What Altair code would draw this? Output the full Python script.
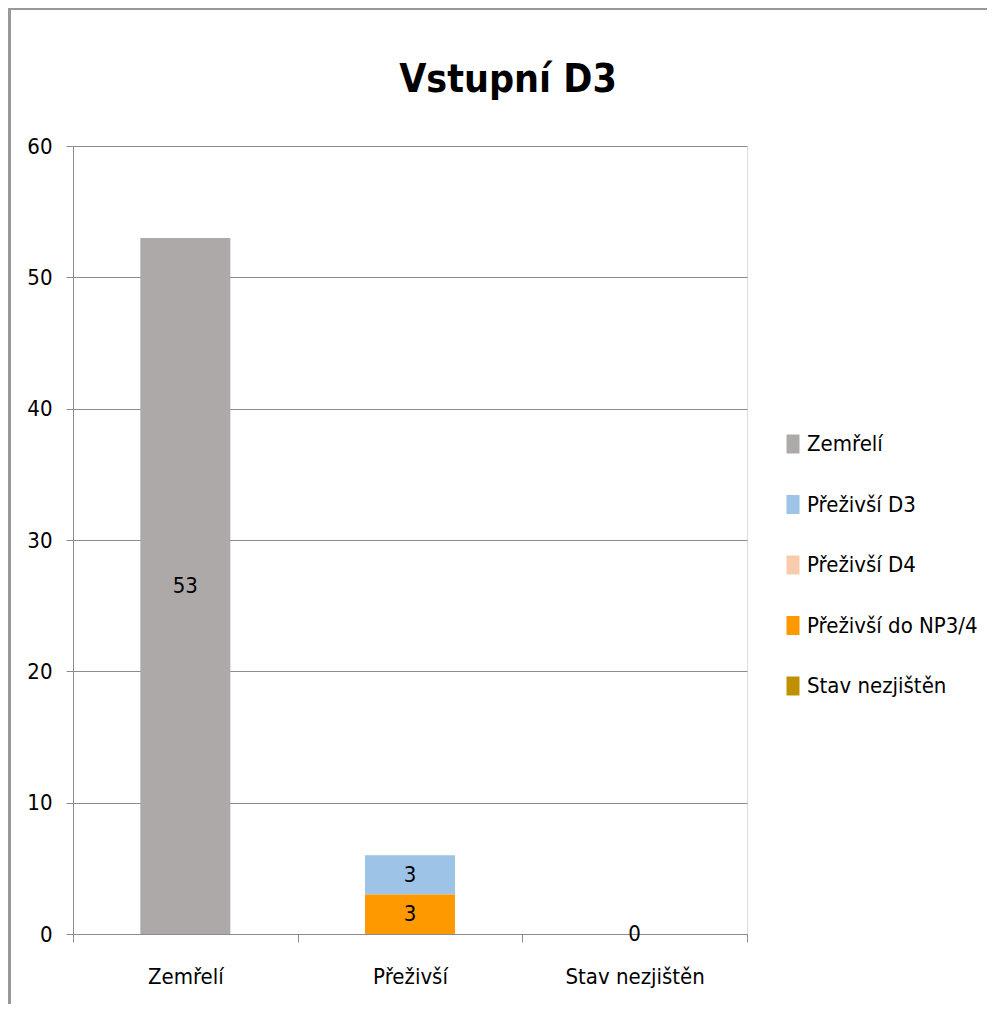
import altair as alt
import pandas as pd

categories = ["Zemřelí", "Přeživší", "Stav nezjištěn"]
series_names = ["Zemřelí", "Přeživší D3", "Přeživší D4", "Přeživší do NP3/4", "Stav nezjištěn"]
series_colors = ["#ADA9A8", "#9DC3E6", "#F8CBAD", "#FF9900", "#BF9000"]
# stacking order from bottom to top
stack_rank = [0, 2, 3, 1, 4]

zemreli = [53, 0, 0]
prezivsi_d3 = [0, 3, 0]
prezivsi_d4 = [0, 0, 0]
prezivsi_np34 = [0, 3, 0]
stav_nezjisten = [0, 0, 0]

series_values = [zemreli, prezivsi_d3, prezivsi_d4, prezivsi_np34, stav_nezjisten]

rows = []
for s, vals, rank in zip(series_names, series_values, stack_rank):
    for c, v in zip(categories, vals):
        rows.append({"cat": c, "series": s, "value": v, "ord": rank})
df = pd.DataFrame(rows)

FONT = "'DejaVu Sans Condensed', Roboto, sans-serif"
FS = 22
GRAY = "#8C8C8C"

x_enc = alt.X(
    "cat:N",
    sort=categories,
    scale=alt.Scale(paddingInner=0, paddingOuter=0),
    axis=alt.Axis(
        title=None,
        labelAngle=0,
        labelFontSize=FS,
        labelFont=FONT,
        labelColor="black",
        labelPadding=24,
        tickBand="extent",
        tickSize=8,
        tickColor=GRAY,
        domainColor=GRAY,
        grid=False,
    ),
)

y_scale = alt.Scale(domain=[0, 60], nice=False)

bars = alt.Chart(df).mark_bar(size=90).encode(
    x=x_enc,
    y=alt.Y(
        "value:Q",
        stack="zero",
        scale=y_scale,
        axis=alt.Axis(
            title=None,
            values=[0, 10, 20, 30, 40, 50, 60],
            labelFontSize=FS,
            labelFont=FONT,
            labelColor="black",
            labelPadding=14,
            tickSize=7,
            tickColor=GRAY,
            domainColor=GRAY,
            gridColor=GRAY,
        ),
    ),
    color=alt.Color(
        "series:N",
        scale=alt.Scale(domain=series_names, range=series_colors),
        legend=alt.Legend(
            title=None,
            orient="none",
            legendX=709,
            legendY=287,
            labelFontSize=FS,
            labelFont=FONT,
            labelColor="black",
            labelLimit=400,
            symbolType="M-1,-1.46L1,-1.46L1,1.46L-1,1.46Z",
            symbolSize=169,
            symbolStrokeWidth=0,
            labelOffset=3,
            rowPadding=38.5,
        ),
    ),
    order=alt.Order("ord:Q"),
)

labels = (
    alt.Chart(df)
    .transform_stack(stack="value", groupby=["cat"], as_=["y0", "y1"], sort=[alt.SortField("ord")])
    .transform_calculate(mid="(datum.y0 + datum.y1) / 2")
    .transform_filter("datum.value > 0 || (datum.cat == 'Stav nezjištěn' && datum.series == 'Stav nezjištěn')")
    .mark_text(font=FONT, fontSize=FS, color="black", baseline="middle", align="center")
    .encode(x=alt.X("cat:N", sort=categories), y=alt.Y("mid:Q", scale=y_scale), text="value:Q")
)

frame_top = alt.Chart(df).mark_rule(color="#999999", strokeWidth=1.5).encode(
    x=alt.value(-63.5), x2=alt.value(1000), y=alt.value(-137.5)
)
frame_left = alt.Chart(df).mark_rule(color="#999999", strokeWidth=1.5).encode(
    x=alt.value(-63.5), y=alt.value(-137.5), y2=alt.value(1000)
)

chart = (
    alt.layer(frame_top, frame_left, bars, labels)
    .properties(
        width=674,
        height=788,
        autosize=alt.AutoSizeParams(type="none"),
        padding={"left": 65, "top": 138, "right": 240, "bottom": 70},
        title=alt.Title(
            "Vstupní D3",
            font=FONT,
            fontSize=39,
            fontWeight="bold",
            color="black",
            anchor="middle",
            dx=98,
            dy=142,
            offset=50,
        ),
    )
    .configure_view(stroke=None)
    .configure(background="white")
)

chart.save("out.html", embed_options={"renderer": "svg", "actions": False})
